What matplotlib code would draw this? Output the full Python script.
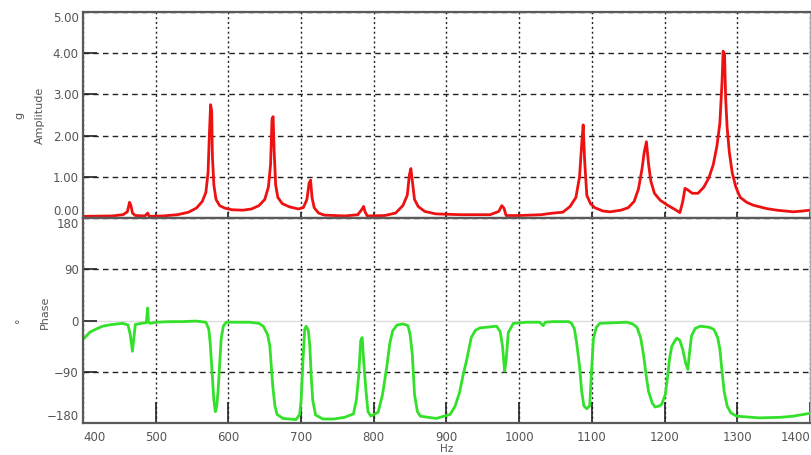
import matplotlib.pyplot as plt

# amplitude spectrum (Hz, g)
amp_hz = [400, 440, 455, 461, 464, 466, 468, 472, 485, 489, 491, 510, 530, 545, 556, 564, 569,
          572, 574, 575.5, 577, 578, 580, 583, 588, 595, 605, 620, 632, 642, 650, 655, 658, 660,
          661.5, 663, 665, 668, 674, 684, 696, 703, 708, 711, 713, 715, 718, 724, 732, 760, 778,
          784, 786, 788, 791, 815, 830, 840, 846, 849, 851, 853, 856, 861, 870, 885, 920, 960,
          972, 976, 979, 982, 1000, 1030, 1047, 1060, 1070, 1078, 1083, 1086, 1088, 1090, 1093,
          1098, 1104, 1115, 1125, 1140, 1150, 1158, 1164, 1169, 1172, 1175, 1178, 1181, 1186,
          1194, 1205, 1215, 1221, 1225, 1228, 1232, 1238, 1246, 1254, 1261, 1267, 1272, 1276,
          1279, 1280.5, 1282.5, 1284, 1286, 1289, 1293, 1298, 1304, 1313, 1322, 1340, 1354,
          1377, 1390, 1400]
amp_g = [0.04, 0.05, 0.08, 0.15, 0.38, 0.30, 0.12, 0.06, 0.05, 0.12, 0.04, 0.05, 0.08, 0.14,
         0.24, 0.40, 0.62, 1.10, 2.10, 2.75, 2.60, 1.50, 0.80, 0.45, 0.30, 0.24, 0.20, 0.19,
         0.22, 0.30, 0.45, 0.75, 1.30, 2.40, 2.46, 1.60, 0.80, 0.50, 0.35, 0.27, 0.22, 0.25,
         0.45, 0.85, 0.92, 0.50, 0.25, 0.12, 0.07, 0.05, 0.08, 0.22, 0.28, 0.15, 0.05, 0.06,
         0.12, 0.30, 0.55, 1.05, 1.20, 0.90, 0.45, 0.28, 0.16, 0.10, 0.08, 0.08, 0.16, 0.30,
         0.24, 0.06, 0.06, 0.08, 0.12, 0.14, 0.28, 0.50, 1.00, 1.80, 2.26, 1.40, 0.55, 0.35,
         0.25, 0.17, 0.15, 0.19, 0.25, 0.40, 0.70, 1.20, 1.60, 1.85, 1.30, 0.90, 0.60, 0.43,
         0.30, 0.20, 0.13, 0.40, 0.72, 0.68, 0.60, 0.60, 0.75, 0.98, 1.30, 1.75, 2.30, 3.30,
         4.05, 3.95, 2.90, 2.20, 1.60, 1.10, 0.75, 0.50, 0.38, 0.31, 0.23, 0.19, 0.15, 0.17,
         0.19]

# phase (Hz, degrees)
ph_hz = [400, 404, 409, 418, 427, 440, 455, 462, 465, 468, 470, 472, 480, 487, 489, 490, 492,
         501, 520, 537, 555, 569, 573, 575, 578, 580, 582, 584, 586, 588, 590, 593, 597, 629,
         642, 648, 654, 657, 659, 661, 664, 667, 675, 693, 698, 700, 703, 705, 707, 710, 712,
         714, 716, 720, 730, 745, 760, 772, 776, 779, 782, 784, 786, 789, 792, 796, 806, 812,
         818, 822, 826, 832, 840, 847, 850, 853, 856, 860, 864, 886, 905, 912, 918, 923, 928,
         934, 940, 946, 969, 974, 977, 980, 982, 985, 992, 1010, 1028, 1033, 1036, 1047, 1068,
         1072, 1076, 1079, 1083, 1086, 1089, 1093, 1097, 1099, 1102, 1106, 1111, 1148, 1156,
         1162, 1167, 1171, 1175, 1178, 1183, 1187, 1193, 1196, 1201, 1204, 1207, 1210, 1214,
         1217, 1221, 1225, 1229, 1232, 1234, 1237, 1242, 1249, 1262, 1268, 1273, 1276, 1279,
         1282, 1286, 1291, 1299, 1330, 1360, 1377, 1400]
ph_deg = [-33, -28, -21, -15, -10, -7, -5, -8, -25, -54, -30, -7, -5, -4, 22, -3, -5,
          -3, -2, -2, -1, -3, -15, -40, -100, -140, -160, -150, -120, -75, -33, -10, -3, -3,
          -5, -10, -25, -45, -80, -115, -150, -165, -172, -174, -165, -140, -60, -15, -10, -18, -45,
          -100, -140, -166, -173, -173, -170, -164, -140, -100, -35, -30, -70, -120, -160, -168, -161, -130,
          -80, -40, -18, -8, -6, -9, -25, -60, -130, -160, -168, -172, -165, -150, -126, -95, -68,
          -30, -17, -13, -10, -20, -45, -89, -70, -21, -5, -3, -3, -9, -3, -2, -2,
          -5, -15, -39, -80, -125, -150, -155, -150, -100, -33, -12, -5, -3, -6,
          -12, -30, -60, -100, -125, -145, -152, -150, -147, -130, -100, -65, -45, -36,
          -31, -35, -51, -75, -86, -60, -27, -14, -10, -12, -16, -30, -50, -90,
          -125, -150, -162, -168, -171, -170, -168, -163]

x_ticks = [400, 500, 600, 700, 800, 900, 1000, 1100, 1200, 1300, 1400]
amp_ticks = [0, 1, 2, 3, 4, 5]
ph_ticks = [-180, -90, 0, 90, 180]

LABEL_C = "#555555"
SPINE_C = "#5a5a5a"

fig = plt.figure(figsize=(8.12, 4.55), dpi=100)
left, right = 83 / 812, 810 / 812
ax1 = fig.add_axes([left, 1 - 218 / 455, right - left, (218 - 12) / 455])
ax2 = fig.add_axes([left, 1 - 423 / 455, right - left, (423 - 218) / 455])

for ax in (ax1, ax2):
    ax.set_xlim(400, 1400)
    ax.set_xticks(x_ticks)
    ax.grid(True, axis="x", color="#222222", lw=1.0, linestyle=(0, (1.5, 2)))
    ax.grid(True, axis="y", color="#222222", lw=1.0, linestyle=(0, (4, 3)))
    ax.set_axisbelow(True)
    for side in ("left", "bottom", "top"):
        ax.spines[side].set_color(SPINE_C)
        ax.spines[side].set_linewidth(1.6)
    ax.spines["right"].set_color("#aaaaaa")
    ax.spines["right"].set_linewidth(1.0)
    ax.tick_params(axis="y", direction="in", length=10, width=1.2, color="#222222",
                   labelsize=8.5, labelcolor=LABEL_C, pad=3)

# amplitude
ax1.plot(amp_hz, amp_g, color="#ee1111", lw=2.0, solid_joinstyle="round")
ax1.set_ylim(0, 5)
ax1.set_yticks(amp_ticks)
ax1.set_yticklabels([f"{v:.2f}" for v in amp_ticks])
ax1.tick_params(axis="x", direction="in", length=4, width=1.2, color="#222222", labelbottom=False)
lbls = ax1.get_yticklabels()
lbls[0].set_va("bottom")
lbls[-1].set_va("top")

# phase
ax2.plot(ph_hz, ph_deg, color="#33e02a", lw=2.0, solid_joinstyle="round")
ax2.set_ylim(-180, 180)
ax2.set_yticks(ph_ticks)
ax2.tick_params(axis="x", direction="in", length=15, width=1.2, color="#222222",
                labelsize=8.5, labelcolor=LABEL_C, pad=6)
for gl, v in zip(ax2.get_ygridlines(), ph_ticks):
    if v == 0:
        gl.set_linestyle("-")
        gl.set_color("#dddddd")
lbls = ax2.get_yticklabels()
lbls[0].set_va("bottom")
lbls[-1].set_va("top")
xl = ax2.get_xticklabels()
xl[0].set_ha("left")
xl[-1].set_ha("right")

fig.text(0.5 * (left + right), 1 - 449 / 455, "Hz", ha="center", va="center",
         fontsize=7.5, color=LABEL_C)
fig.text(40 / 812, 1 - 115 / 455, "Amplitude", rotation=90, ha="center", va="center",
         fontsize=8, color=LABEL_C)
fig.text(19 / 812, 1 - 115 / 455, "g", rotation=90, ha="center", va="center",
         fontsize=8, color=LABEL_C)
fig.text(45 / 812, 1 - 312 / 455, "Phase", rotation=90, ha="center", va="center",
         fontsize=8, color=LABEL_C)
fig.text(20 / 812, 1 - 320 / 455, "°", rotation=90, ha="center", va="center",
         fontsize=8, color=LABEL_C)

fig.savefig("out.png", dpi=100)
